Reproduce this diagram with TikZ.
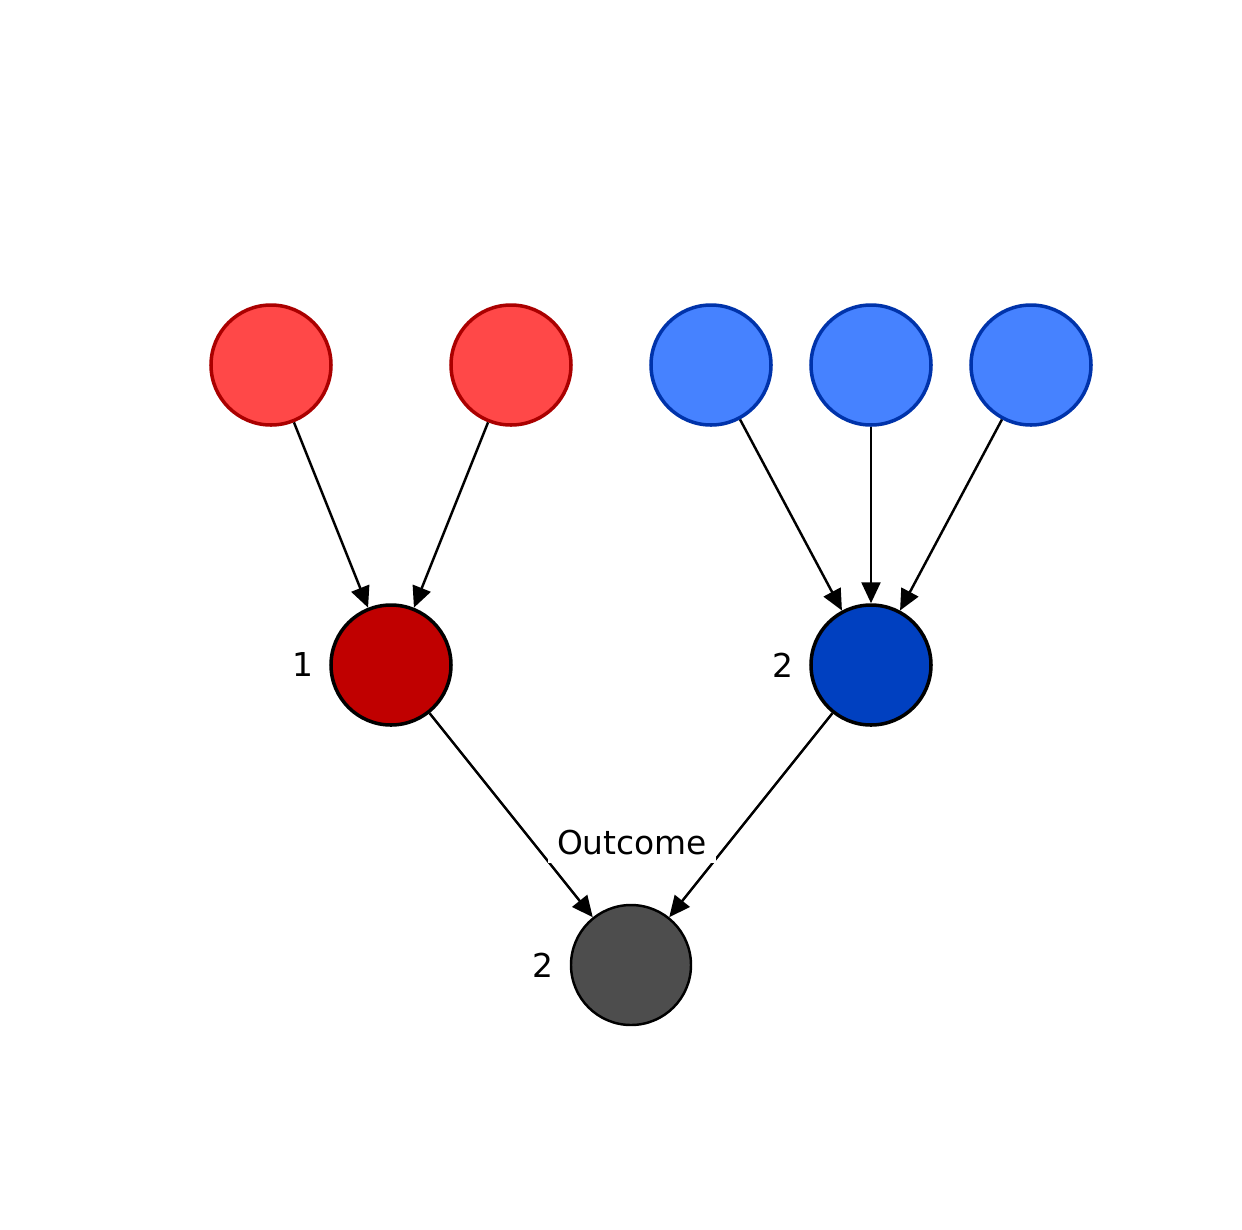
\documentclass[tikz,border=0pt]{standalone}
\usepackage{fontspec}
\setmainfont{DejaVu Sans}
\usepackage{xcolor}
\usetikzlibrary{arrows.meta}
\definecolor{redlight}{HTML}{FF4848}
\definecolor{redline}{HTML}{AA0000}
\definecolor{reddark}{HTML}{C00000}
\definecolor{bluelight}{HTML}{4682FF}
\definecolor{blueline}{HTML}{0033AA}
\definecolor{bluedark}{HTML}{0040C0}
\definecolor{greydark}{HTML}{4D4D4D}

\begin{document}
\begin{tikzpicture}[
        every node/.style={font=\fontsize{18.7}{22}\selectfont},
        vtx/.style={circle, minimum size=2.4cm, inner sep=0pt, line width=2pt},
        redsrc/.style={vtx, fill=redlight, draw=redline},
        bluesrc/.style={vtx, fill=bluelight, draw=blueline},
        mid/.style={vtx, draw=black},
        edge/.style={line width=1.4pt, -{Triangle[length=0.42cm,width=0.38cm]}}
    ]
        \useasboundingbox (0,0) rectangle (24.84,-24.58);

        % sources
        \node[redsrc] (r1) at (5.42,-7.3) {};
        \node[redsrc] (r2) at (10.22,-7.3) {};
        \node[bluesrc] (b1) at (14.22,-7.3) {};
        \node[bluesrc] (b2) at (17.42,-7.3) {};
        \node[bluesrc] (b3) at (20.62,-7.3) {};

        % middle
        \node[mid, fill=reddark] (m1) at (7.82,-13.3) {};
        \node[mid, fill=bluedark] (m2) at (17.42,-13.3) {};

        % outcome
        \node[vtx, draw=black, line width=1.4pt, fill=greydark] (out) at (12.62,-19.3) {};

        % edges
        \draw[edge] (r1) -- (m1);
        \draw[edge] (r2) -- (m1);
        \draw[edge] (b1) -- (m2);
        \draw[edge] (b2) -- (m2);
        \draw[edge] (b3) -- (m2);
        \draw[edge] (m1) -- (out);
        \draw[edge] (m2) -- (out);

        % Text
        \node[left=0.2cm] (l1) at (m1.west) {1};
        \node[left=0.2cm] (l2) at (m2.west) {2};
        \node[left=0.2cm] (l3) at (out.west) {2};
        \node[fill=white, inner xsep=5pt, inner ysep=4.5pt] (lo) at (12.64,-16.86) {Outcome};

\end{tikzpicture}
\end{document}
